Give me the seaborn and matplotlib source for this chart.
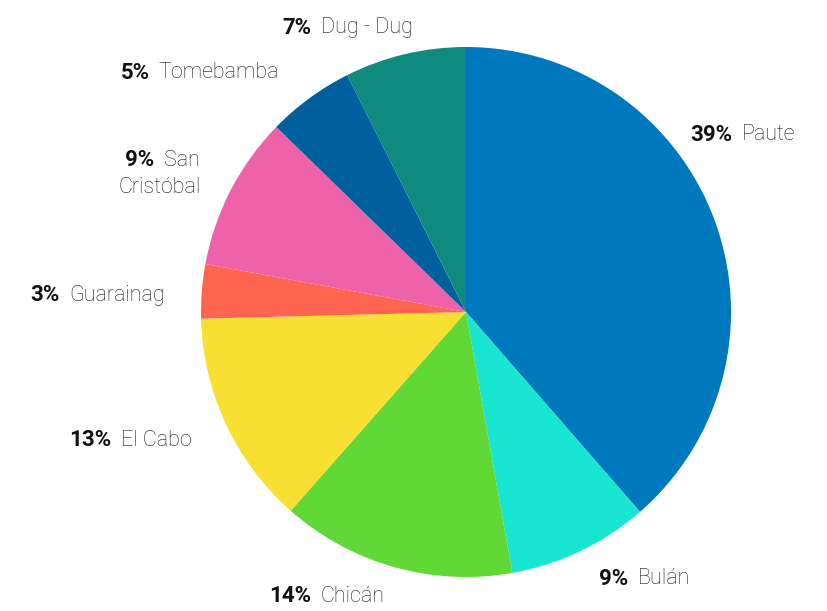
import matplotlib
matplotlib.use('Agg')
import matplotlib.pyplot as plt
import seaborn as sns

sns.set_theme(style='white')
plt.rcParams['font.family'] = ['Roboto', 'DejaVu Sans']

# datos: participación por central (%)
centrales = ['Paute', 'Bulán', 'Chicán', 'El Cabo', 'Guarainag', 'San\nCristóbal', 'Tomebamba', 'Dug - Dug']
valores = [38.6, 8.6, 14.3, 13.1, 3.3, 9.4, 5.3, 7.4]
colores = ['#0078BE', '#17E6D0', '#60D836', '#F8E033', '#FF6450', '#EE62AA', '#00609E', '#0F8A7E']

# posición de las etiquetas (pixeles de la imagen: separación entre % y nombre, y)
pos_etiquetas = [(736, 135), (632, 579), (315, 596), (115, 440),
                 (63, 295), (158, 160), (153, 73), (315, 28)]

W, H = 827, 611
cx, cy, r = 466, 312, 265

fig = plt.figure(figsize=(W / 100, H / 100), dpi=100)
ax = fig.add_axes([(cx - r) / W, (H - cy - r) / H, 2 * r / W, 2 * r / H])

ax.pie(valores, colors=colores, startangle=90, counterclock=False,
       radius=1, wedgeprops={'linewidth': 0})
ax.set_xlim(-1, 1)
ax.set_ylim(-1, 1)
ax.set_aspect('equal')
ax.axis('off')

for nombre, v, (px, py) in zip(centrales, valores, pos_etiquetas):
    fx, fy = px / W, 1 - py / H
    fig.text(fx - 0.004, fy, f'{v:.0f}%', ha='right', va='center',
             fontsize=16, fontweight='bold', color='#111111')
    if '\n' in nombre:
        l1, l2 = nombre.split('\n')
        fig.text(fx + 0.007, fy, l1, ha='left', va='center',
                 fontsize=15.5, fontweight='light', color='#1a1a1a')
        fig.text(fx + 0.002, fy - 27 / H, l2, ha='center', va='center',
                 fontsize=15.5, fontweight='light', color='#1a1a1a')
    else:
        fig.text(fx + 0.007, fy, nombre, ha='left', va='center',
                 fontsize=15.5, fontweight='light', color='#1a1a1a')

fig.savefig('out.png', dpi=100, facecolor='white')
